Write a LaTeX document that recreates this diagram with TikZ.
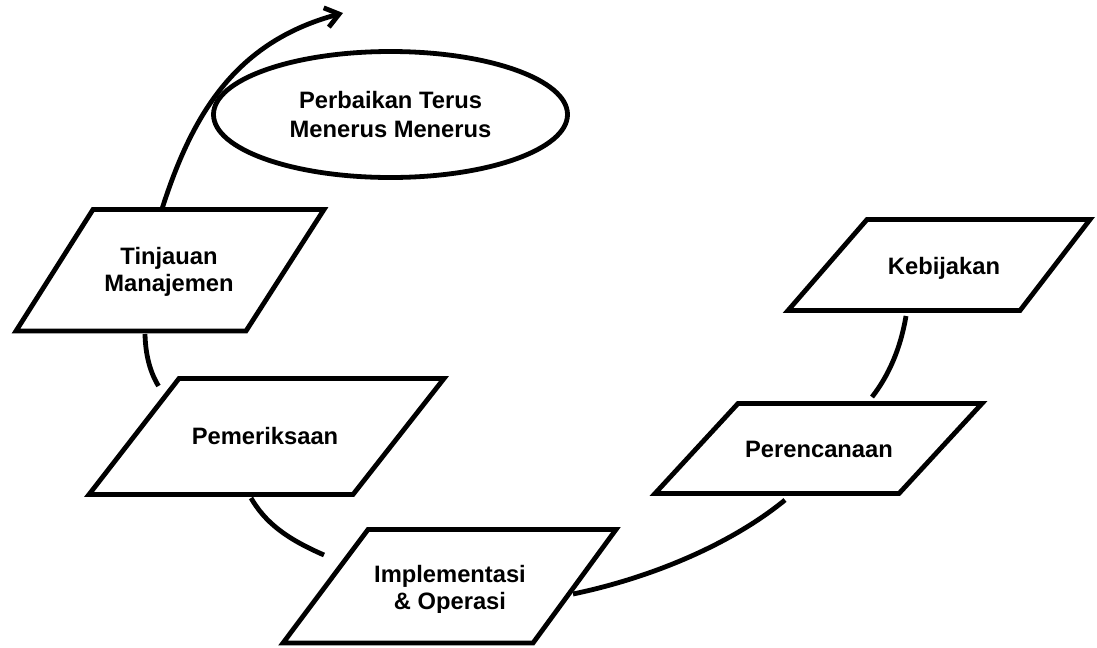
\documentclass[tikz,border=0pt]{standalone}
\usepackage{fontspec}
\setmainfont{Liberation Sans}
\usetikzlibrary{calc,shapes.geometric,arrows.meta}
\begin{document}
\begin{tikzpicture}[x=0.75pt,y=-0.75pt,
  box/.style={draw=black, line width=3.6pt, line join=miter},
  lbl/.style={font=\bfseries\fontsize{17.8}{20.3}\selectfont, align=center, inner sep=0pt},
  link/.style={draw=black, line width=3.6pt}]
\useasboundingbox (0,0) rectangle (1097,647);

% Perbaikan ellipse
\node[draw=black, line width=3.6pt, ellipse, inner sep=0pt,
      minimum width=265.5pt, minimum height=94.5pt,
      font=\bfseries\fontsize{17.8}{22}\selectfont, align=center]
      (perb) at (390.5,114.5) {Perbaikan Terus\\Menerus Menerus};

% Kebijakan
\node[lbl] (keb) at (944,268) {Kebijakan};
\draw[box] (867,219.5) -- (1090,219.5) -- (1020,310.5) -- (788,310.5) -- cycle;

% Perencanaan
\node[lbl] (per) at (819,449.7) {Perencanaan};
\draw[box] (738,403.5) -- (982,403.5) -- (899,493.5) -- (655,493.5) -- cycle;

% Implementasi
\begin{scope}
\clip (300,540) rectangle (600,612);
\node[lbl] (imp) at (450,590.3) {Implementasi\\\& Operasi};
\end{scope}
\draw[box] (368,529.5) -- (616,529.5) -- (533,643) -- (283,643) -- cycle;

% Pemeriksaan
\node[lbl] (pem) at (265,436.4) {Pemeriksaan};
\draw[box] (179,378.5) -- (444,378.5) -- (353,494.5) -- (89,494.5) -- cycle;

% Tinjauan
\node[lbl] (tin) at (169,272.3) {Tinjauan\\Manajemen};
\draw[box] (93,209.5) -- (324,209.5) -- (246,331) -- (16,331) -- cycle;

% connectors
\draw[link] ($(keb)+(-38,48)$) .. controls (902,340) and (893,370) .. ($(per)+(53,-52.7)$);
\draw[link] ($(per)+(-34,50.3)$) .. controls (730,545) and (650,578) .. ($(imp)+(123,3.7)$);
\draw[link] ($(imp)+(-126,-35.3)$) .. controls (285,538) and (265,522) .. ($(pem)+(-14,61.6)$);
\draw[link] ($(pem)+(-106.5,-50.4)$) .. controls (150,372) and (145.5,355) .. ($(tin)+(-24,61.7)$);
\draw[link, -{Straight Barb[length=10pt,width=15pt]}] ($(tin)+(-7,-63.3)$) .. controls (192,115) and (235,42) .. (343,13) coordinate (tip);
\end{tikzpicture}
\end{document}
